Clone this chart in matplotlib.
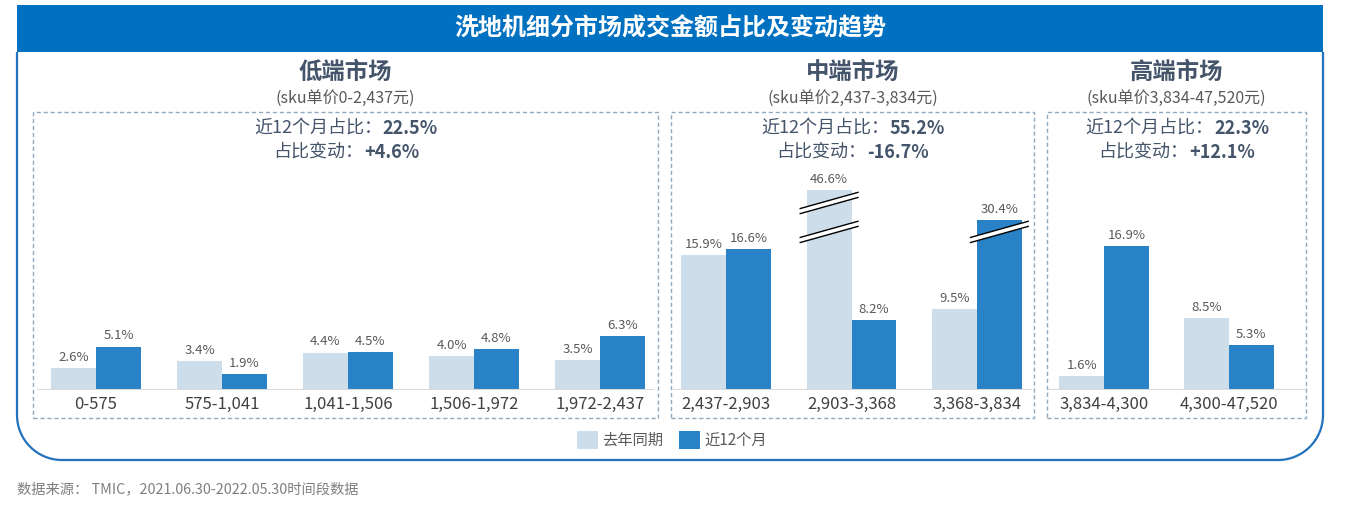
import numpy as np
import matplotlib
matplotlib.use("Agg")
from matplotlib import pyplot as plt
from matplotlib.patches import Rectangle, Patch, PathPatch, Polygon
from matplotlib.path import Path

plt.rcParams['font.family'] = ['Noto Sans CJK SC', 'DejaVu Sans']

# 数据
title = "洗地机细分市场成交金额占比及变动趋势"
series_names = ["去年同期", "近12个月"]

seg_names = ["低端市场", "中端市场", "高端市场"]
seg_ranges = ["(sku单价0-2,437元)", "(sku单价2,437-3,834元)", "(sku单价3,834-47,520元)"]
seg_share = ["22.5%", "55.2%", "22.3%"]
seg_change = ["+4.6%", "-16.7%", "+12.1%"]

low_cats = ["0-575", "575-1,041", "1,041-1,506", "1,506-1,972", "1,972-2,437"]
low_last = [2.6, 3.4, 4.4, 4.0, 3.5]
low_recent = [5.1, 1.9, 4.5, 4.8, 6.3]

mid_cats = ["2,437-2,903", "2,903-3,368", "3,368-3,834"]
mid_last = [15.9, 46.6, 9.5]
mid_recent = [16.6, 8.2, 30.4]

high_cats = ["3,834-4,300", "4,300-47,520"]
high_last = [1.6, 8.5]
high_recent = [16.9, 5.3]

source = "数据来源： TMIC，2021.06.30-2022.05.30时间段数据"

# 样式
W, H = 1347, 505
c_last = "#CDDDE9"
c_recent = "#2A82C6"
c_head = "#0070C0"
c_text = "#44546A"
c_gray = "#595959"

# 截断轴：超过 17% 的部分压缩显示
CUT, K = 17.0, 0.22


def fwd(v):
    v = np.asarray(v, dtype=float)
    return np.where(v < CUT, v, CUT + (v - CUT) * K)


def inv(u):
    u = np.asarray(u, dtype=float)
    return np.where(u < CUT, u, CUT + (u - CUT) / K)


def P(x, y):
    """像素坐标 -> figure 坐标"""
    return x / W, 1 - y / H


fig = plt.figure(figsize=(W / 100, H / 100), dpi=100)

# 标题栏
fig.patches.append(Rectangle(P(17, 52), 1306 / W, 47 / H, transform=fig.transFigure,
                             facecolor=c_head, edgecolor="none"))
fig.text(*P(670, 28), title, color="white", fontsize=17.3, fontweight="bold",
         ha="center", va="center")

# 外框（底部圆角）
R = 45
k = 0.552 * R
verts = [P(17, 52), P(17, 460 - R),
         P(17, 460 - R + k), P(17 + R - k, 460), P(17 + R, 460),
         P(1323 - R, 460),
         P(1323 - R + k, 460), P(1323, 460 - R + k), P(1323, 460 - R),
         P(1323, 52)]
codes = [Path.MOVETO, Path.LINETO, Path.CURVE4, Path.CURVE4, Path.CURVE4,
         Path.LINETO, Path.CURVE4, Path.CURVE4, Path.CURVE4, Path.LINETO]
fig.patches.append(PathPatch(Path(verts, codes), transform=fig.transFigure,
                             facecolor="none", edgecolor="#2272BE", lw=1.6))

renderer = fig.canvas.get_renderer()


def two_part(cx, y, a, b, size=13):
    t1 = fig.text(0, 0, a, fontsize=size, color=c_text, va="center")
    t2 = fig.text(0, 0, b, fontsize=size, color=c_text, va="center", fontweight="bold")
    w1 = t1.get_window_extent(renderer).width
    w2 = t2.get_window_extent(renderer).width
    x0 = cx - (w1 + w2) / 2
    t1.set_position(P(x0, y))
    t2.set_position(P(x0 + w1 + 1, y))


def break_mark(ax, xc, u, hw=0.23):
    su, g = 0.95, 0.3
    lo = [(xc - hw, u - su - g), (xc + hw, u + su - g)]
    hi = [(xc - hw, u - su + g), (xc + hw, u + su + g)]
    poly = [(x, float(inv(y))) for x, y in lo + hi[::-1]]
    ax.add_patch(Polygon(poly, closed=True, facecolor="white", edgecolor="none", zorder=4))
    for line in (lo, hi):
        ax.plot([p[0] for p in line], [float(inv(p[1])) for p in line],
                color="black", lw=1, zorder=5)


panels = [
    (33, 658, 96, 126.0, low_cats, low_last, low_recent),
    (671, 1034, 726, 125.5, mid_cats, mid_last, mid_recent),
    (1047, 1306, 1104, 125.0, high_cats, high_last, high_recent),
]

bw = 0.357
for i, (left, right, c0, sp, cats, last, recent) in enumerate(panels):
    cx = (left + right) / 2
    # 虚线框
    fig.patches.append(Rectangle(P(left, 418), (right - left) / W, 306 / H,
                                 transform=fig.transFigure, facecolor="none",
                                 edgecolor="#8FA9C0", lw=1, linestyle=(0, (3, 2))))
    fig.text(*P(cx, 72), seg_names[i], fontsize=16.8, fontweight="bold", color=c_text,
             ha="center", va="center")
    fig.text(*P(cx, 98), seg_ranges[i], fontsize=11.5, color=c_gray,
             ha="center", va="center")
    two_part(cx, 129, "近12个月占比：", seg_share[i])
    two_part(cx, 152, "占比变动：", seg_change[i])

    ax = fig.add_axes([left / W, 1 - 390 / H, (right - left) / W, 240 / H])
    ax.set_yscale("function", functions=(fwd, inv))
    ax.set_ylim(0, float(inv(240 / 8.5)))
    ax.set_xlim((left - c0) / sp, (right - c0) / sp)
    x = np.arange(len(cats))
    b1 = ax.bar(x - bw / 2, last, bw, color=c_last, zorder=2)
    b2 = ax.bar(x + bw / 2, recent, bw, color=c_recent, zorder=2)
    for bars, vals in ((b1, last), (b2, recent)):
        for rect, v in zip(bars, vals):
            xc = rect.get_x() + rect.get_width() / 2
            ax.annotate(f"{v}%", (xc, v), xytext=(0, 3), textcoords="offset points",
                        ha="center", va="bottom", fontsize=9.5, color=c_gray)
            if v > CUT:
                break_mark(ax, xc, 18.6)
                if v > 40:
                    break_mark(ax, xc, 22.0)
    ax.axhline(0, xmin=0.008, xmax=0.992, color="#D9D9D9", lw=1.5, zorder=3)
    ax.set_xticks(x)
    ax.set_xticklabels(cats, fontsize=12, color="#404040")
    ax.tick_params(axis="x", length=0, pad=4)
    ax.set_yticks([])
    ax.set_yticks([], minor=True)
    for s in ax.spines.values():
        s.set_visible(False)
    ax.patch.set_visible(False)

# 图例
handles = [Patch(facecolor=c_last), Patch(facecolor=c_recent)]
fig.legend(handles, series_names, loc="center", bbox_to_anchor=P(672, 440), ncol=2,
           frameon=False, fontsize=11, handlelength=1.4, handleheight=1.4,
           handletextpad=0.3, columnspacing=1.0, labelcolor=c_gray)

fig.text(*P(17, 489), source, fontsize=10.3, color="#7F7F7F", ha="left", va="center")

fig.savefig("out.png", dpi=100)
